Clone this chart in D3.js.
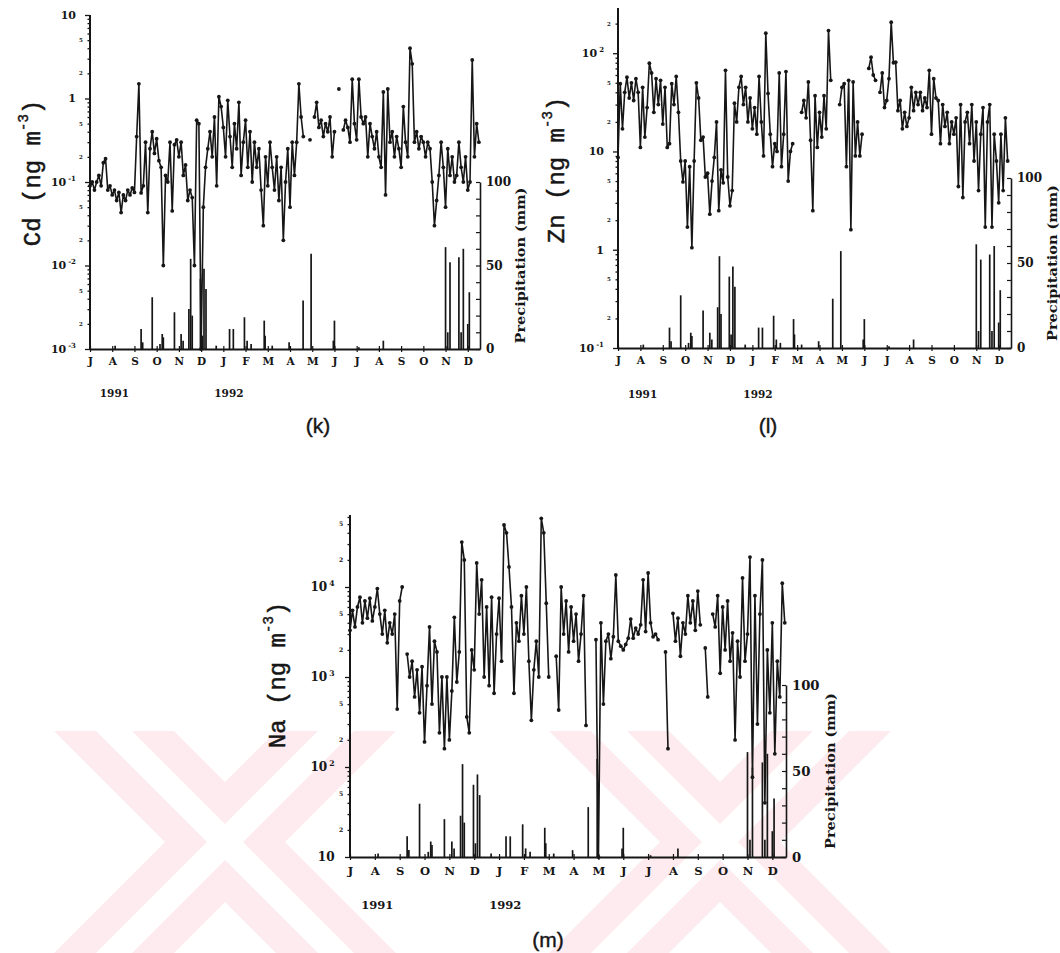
<!DOCTYPE html>
<html>
<head>
<meta charset="utf-8">
<script src="https://cdn.jsdelivr.net/npm/d3@7"></script>
<style>
  body { margin: 0; background: #fff; }
  svg { display: block; }
</style>
</head>
<body>
<svg id="chart" width="1060" height="953"></svg>
<script>
// x axis: months from July 1991 to December 1992
const months = ["J","A","S","O","N","D","J","F","M","A","M","J","J","A","S","O","N","D"];
const years = ["1991", "1992"];
const STEP = 0.1; // months between two samples of a series

// daily precipitation (same station record in all three panels)
const rainMonth = [1.13, 2.3, 2.37, 2.8, 3.15, 3.25, 3.3, 3.8, 4.1, 4.19, 4.45, 4.53, 4.6, 4.97, 5.05, 5.13, 5.22, 5.68,
  6.28, 6.45, 6.95, 7.07, 7.25, 7.84, 7.88, 8.2, 8.96, 9.59, 9.95, 10.95, 11.0, 12.1, 13.2,
  16.0, 16.1, 16.2, 16.6, 16.7, 16.8, 17.0, 17.07];
const rainMM = [2, 12, 4, 31, 3, 9, 7, 22, 9, 5, 24, 54, 20, 42, 8, 48, 36, 2,
  12, 12, 19, 5, 3, 17, 8, 2, 4, 29, 57, 5, 17, 1, 5,
  61, 10, 52, 55, 10, 60, 15, 34];

// Cd, ng m-3, one value every STEP months (null = no sample)
const cdValues = [
  0.09, 0.1, 0.08, 0.1, 0.12, 0.09, 0.17, 0.19, 0.08, 0.09,
  0.07, 0.08, 0.06, 0.075, 0.043, 0.07, 0.06, 0.08, 0.07, 0.085,
  0.075, 0.35, 1.5, 0.074, 0.09, 0.3, 0.043, 0.25, 0.4, 0.22,
  0.33, 0.18, 0.15, 0.01, 0.12, 0.1, 0.3, 0.045, 0.28, 0.32,
  0.2, 0.3, 0.12, 0.16, 0.06, 0.08, 0.065, 0.01, 0.55, 0.5,
  0.001, 0.05, 0.15, 0.25, 0.4, 0.2, 0.6, 0.09, 1.05, 0.8,
  0.45, 0.2, 0.95, 0.35, 0.15, 0.5, 0.25, 0.9, 0.12, 0.3,
  0.55, 0.15, 0.4, 0.1, 0.3, 0.15, 0.25, 0.08, 0.03, 0.2,
  0.09, 0.3, 0.15, 0.08, 0.2, 0.06, 0.15, 0.02, 0.1, 0.25,
  0.05, 0.3, 0.12, 0.3, 1.5, 0.6, 0.35, null, null, 0.32,
  null, 0.6, 0.9, 0.45, 0.55, 0.35, 0.5, 0.4, 0.6, 0.2,
  0.4, null, 1.3, null, 0.42, 0.55, 0.45, 0.3, 1.7, 0.5,
  0.32, 1.7, 0.6, 0.5, 0.6, 0.2, 0.5, 0.35, 0.25, 0.4,
  0.2, 0.15, 1.2, 0.07, 1.3, 0.3, 0.4, 0.2, 0.35, 0.25,
  0.15, 0.8, 0.3, 0.2, 4.0, 2.6, 0.3, 0.4, 0.25, 0.35,
  0.3, 0.2, 0.3, 0.25, 0.1, 0.03, 0.06, 0.12, 0.3, 0.15,
  0.05, 0.25, 0.12, 0.2, 0.1, 0.12, 0.3, 0.15, 0.1, 0.2,
  0.08, 0.1, 2.9, 0.2, 0.5, 0.3
];

// Zn, ng m-3
const znValues = [
  8.7, 49, 17, 40, 57, 35, 50, 33, 55, 40,
  11, 45, 14, 28, 79, 63, 25, 55, 30, 53,
  19, 45, 11, 12, 49, 30, 58, 25, 8, 4.9,
  8, 1.7, 7, 1.05, 8, 50, 35, 13, 14, 5.5,
  6, 2.3, 5, 8.7, 20, 2.5, 6.5, 4.8, 67, 5.5,
  2.8, 4, 31, 20, 45, 58, 30, 45, 20, 35,
  17, 28, 15, 58, 20, 9, 160, 39, 15, 7,
  12, 10, 63, 7, 15, 65, 5, 10, 12, null,
  null, null, 25, 33, 22, 51, 13, 2.5, 37, 11,
  25, 14, 37, 17, 170, 53, null, null, null, 30,
  45, 49, 7, 53, 1.6, 51, 9, 20, 9, 15,
  null, null, 70, 91, 60, 53, null, 40, 63, 28,
  33, 55, 207, 80, 81, 26, 33, 17, 25, 18,
  22, 45, 26, 40, 30, 40, 26, 35, 28, 67,
  15, 55, 35, 33, 12, 30, 18, 25, 12, 20,
  15, 22, 4.4, 30, 3.4, 20, 25, 12, 30, 8,
  20, 4, 15, 28, 1.7, 20, 30, 1.7, 15, 8,
  3, 15, 4, 22, 8
];

// Na, ng m-3
const naValues = [
  3300, 5500, 3600, 6000, 7700, 4000, 7000, 4500, 7500, 4200,
  6000, 9600, 5000, 3000, 5500, 2400, 4000, 3000, 5000, 440,
  7000, 10000, null, 1800, 1000, 1500, 600, 1200, 400, 1300,
  190, 800, 3600, 500, 2500, 1900, 240, 1000, 160, 1000,
  200, 700, 4600, 880, 1900, 31600, 20000, 360, 240, 2000,
  1200, 18500, 5000, 12000, 1000, 6000, 800, 7700, 660, 3000,
  7500, 1500, 49000, 40000, 16700, 6000, 660, 4000, 2500, 8000,
  3000, 10000, 1500, 330, 1200, 2500, 1000, 58000, 40000, 6600,
  1000, null, null, 1700, 430, 10000, 3000, 7000, 1900, 6000,
  2500, 5000, 1500, 3000, 8000, 290, null, null, null, 2600,
  10, 4000, 500, 2500, 3000, 1600, 2800, 13600, 2500, 2200,
  2000, 2300, 2700, 4400, 2700, 3500, 3000, 3800, 12000, 3200,
  14300, 4000, 2800, 3000, 2600, null, null, 1900, 160, null,
  5100, 2500, 4500, 1700, 4000, 3000, 8000, 4000, 7000, 3300,
  9000, 3800, null, 2100, 600, null, 5000, 3600, 8000, 1100,
  6000, 2000, 7000, 1500, 3100, 200, 2500, 1000, 12600, 1500,
  3000, 21500, 77, 8000, 300, 5000, 20000, 40, 2000, 400,
  4000, 140, 1500, 600, 11000, 4000
];

const svg = d3.select("#chart");
const INK = "#161616";

// faint pink watermark of the scanned thesis page
const mark = svg.append("g").attr("id", "watermark");
const wmTop = 731, wmBottom = 953;
const arms = [[114, 336], [336, 114], [609, 831], [831, 609]];
arms.forEach(([t, b]) => {
  mark.append("path")
    .attr("d", `M${t - 60},${wmTop}L${t + 60},${wmTop}L${b + 60},${wmBottom}L${b - 60},${wmBottom}Z`)
    .attr("fill", "#fdebef");
});
arms.forEach(([t, b]) => {
  mark.append("path")
    .attr("d", `M${t - 18},${wmTop}L${t + 18},${wmTop}L${b + 18},${wmBottom}L${b - 18},${wmBottom}Z`)
    .attr("fill", "#ffffff");
});

const panels = [
  {name: "Cd", tag: "(k)", values: cdValues, domain: [1e-3, 10],
   left: 90, right: 480, top: 15, bottom: 349, rainTop: 182, fs: 1,
   titleX: 33, titleY: 173, rainLabelX: 520, labelX: 318, labelY: 426, yearY: 393},
  {name: "Zn", tag: "(l)", values: znValues, domain: [0.1, Math.pow(10, 2.46)],
   left: 618, right: 1011, top: 8, bottom: 348, rainTop: 178, fs: 1,
   titleX: 557, titleY: 170, rainLabelX: 1052, labelX: 768, labelY: 426, yearY: 394},
  {name: "Na", tag: "(m)", values: naValues, domain: [10, Math.pow(10, 4.8)],
   left: 350, right: 786, top: 515, bottom: 857, rainTop: 685, fs: 1.1,
   titleX: 278, titleY: 675, rainLabelX: 830, labelX: 548, labelY: 940, yearY: 905}
];

panels.forEach(drawPanel);

function drawPanel(p) {
  const g = svg.append("g");
  const x = d3.scaleLinear().domain([0, 17.55]).range([p.left, p.right]);
  const y = d3.scaleLog().domain(p.domain).range([p.bottom, p.top]);
  const rain = d3.scaleLinear().domain([0, 100]).range([p.bottom, p.rainTop]);

  // precipitation sticks
  g.append("g").selectAll("line").data(rainMonth).join("line")
    .attr("x1", d => x(d)).attr("x2", d => x(d))
    .attr("y1", rain(0)).attr("y2", (d, i) => rain(rainMM[i]))
    .attr("stroke", INK).attr("stroke-width", 1.7);

  // concentration series
  const pts = p.values.map((v, i) => [i * STEP, v]);
  const line = d3.line()
    .defined(d => d[1] !== null)
    .x(d => x(d[0]))
    .y(d => y(d[1]));
  g.append("path").datum(pts)
    .attr("d", line)
    .attr("fill", "none")
    .attr("stroke", INK)
    .attr("stroke-width", 1.6)
    .attr("stroke-linejoin", "round");
  g.append("g").selectAll("circle").data(pts.filter(d => d[1] !== null)).join("circle")
    .attr("cx", d => x(d[0])).attr("cy", d => y(d[1]))
    .attr("r", 1.9).attr("fill", INK);

  // left log axis
  const ticks = y.ticks().filter(v => v >= p.domain[0] * 0.999 && v <= p.domain[1] * 1.001);
  const expOf = v => Math.round(Math.log10(v));
  const isMajor = v => Math.abs(Math.log10(v) - expOf(v)) < 1e-6;
  const mult = v => Math.round(v / Math.pow(10, Math.floor(Math.log10(v) + 1e-9)));

  const ya = g.append("g")
    .attr("transform", `translate(${p.left},0)`)
    .call(d3.axisLeft(y).tickValues(ticks).tickSize(2.5).tickSizeOuter(0).tickFormat(""));
  ya.select(".domain").attr("stroke", INK).attr("stroke-width", 2)
    .attr("d", `M0,${p.top}V${p.bottom}`);
  ya.selectAll(".tick line").attr("stroke", INK).attr("stroke-width", 1.3)
    .attr("x2", d => isMajor(d) ? -5 : -2.5);

  const lab = g.append("g").attr("font-family", "'DejaVu Serif', serif").attr("font-weight", "bold").attr("fill", INK);
  ticks.filter(isMajor).forEach(v => {
    const e = expOf(v);
    const t = lab.append("text")
      .attr("x", p.left - 14 * p.fs)
      .attr("y", y(v))
      .attr("dy", "0.35em")
      .attr("text-anchor", "end")
      .attr("font-size", 11 * p.fs);
    if (e === 0) t.text("1");
    else if (e === 1) t.text("10");
    else {
      t.append("tspan").text("10");
      t.append("tspan").attr("dx", 2).attr("dy", -5 * p.fs).attr("font-size", 7 * p.fs)
        .text(e < 0 ? "-" + (-e) : String(e));
    }
  });
  ticks.filter(v => !isMajor(v) && (mult(v) === 2 || mult(v) === 5)).forEach(v => {
    lab.append("text")
      .attr("x", p.left - 9)
      .attr("y", y(v))
      .attr("dy", "0.35em")
      .attr("text-anchor", "middle")
      .attr("font-size", 5.5 * p.fs)
      .text(mult(v));
  });

  // month axis
  const xa = g.append("g")
    .attr("transform", `translate(0,${p.bottom})`)
    .call(d3.axisBottom(x).tickValues(d3.range(months.length)).tickSize(3).tickSizeOuter(0)
      .tickPadding(6 * p.fs).tickFormat((d, i) => months[i]));
  xa.select(".domain").attr("stroke", INK).attr("stroke-width", 2);
  xa.selectAll(".tick line").attr("y1", -3).attr("stroke", INK).attr("stroke-width", 1.2);
  xa.selectAll(".tick text")
    .attr("font-family", "'DejaVu Serif', serif")
    .attr("font-weight", "bold")
    .attr("font-size", 10.5 * p.fs)
    .attr("fill", INK);

  // year labels
  [1.1, 6.25].forEach((m, i) => {
    g.append("text")
      .attr("x", x(m)).attr("y", p.yearY).attr("dy", "0.35em")
      .attr("text-anchor", "middle")
      .attr("font-family", "'DejaVu Serif', serif")
      .attr("font-weight", "bold")
      .attr("font-size", 10.5 * p.fs)
      .attr("fill", INK)
      .text(years[i]);
  });

  // precipitation axis on the right
  const ra = g.append("g")
    .attr("transform", `translate(${p.right},0)`)
    .call(d3.axisRight(rain).tickValues(d3.range(0, 101, 10)).tickSizeInner(-4).tickSizeOuter(0)
      .tickPadding(6).tickFormat(d => d % 50 === 0 ? d : ""));
  ra.select(".domain").attr("stroke", INK).attr("stroke-width", 1.6);
  ra.selectAll(".tick line").attr("stroke", INK).attr("stroke-width", 1.2);
  ra.selectAll(".tick text")
    .attr("font-family", "'DejaVu Serif', serif")
    .attr("font-weight", "bold")
    .attr("font-size", 12 * p.fs)
    .attr("fill", INK);

  g.append("text")
    .attr("transform", `translate(${p.rainLabelX},${(rain(0) + rain(100)) / 2}) rotate(-90)`)
    .attr("text-anchor", "middle")
    .attr("dominant-baseline", "central")
    .attr("font-family", "'DejaVu Serif', serif")
    .attr("font-weight", "bold")
    .attr("font-size", 13)
    .attr("textLength", 156)
    .attr("lengthAdjust", "spacingAndGlyphs")
    .attr("fill", INK)
    .text("Precipitation (mm)");

  // concentration title
  const tt = g.append("text")
    .attr("transform", `translate(${p.titleX},${p.titleY}) rotate(-90)`)
    .attr("text-anchor", "middle")
    .attr("dominant-baseline", "central")
    .attr("font-family", "'Liberation Mono', monospace")
    .attr("font-size", 24)
    .attr("stroke", INK).attr("stroke-width", 0.5)
    .attr("fill", INK);
  tt.append("tspan").text(p.name + " (ng m");
  tt.append("tspan").attr("dy", -9).attr("font-size", 14).text("-3");
  tt.append("tspan").attr("dy", 9).text(")");

  // panel letter
  g.append("text")
    .attr("x", p.labelX).attr("y", p.labelY).attr("dy", "0.35em")
    .attr("text-anchor", "middle")
    .attr("font-family", "'Liberation Sans', Arial, sans-serif")
    .attr("font-size", 21)
    .attr("stroke", INK).attr("stroke-width", 0.4)
    .attr("fill", INK)
    .text(p.tag);
}
</script>
</body>
</html>
